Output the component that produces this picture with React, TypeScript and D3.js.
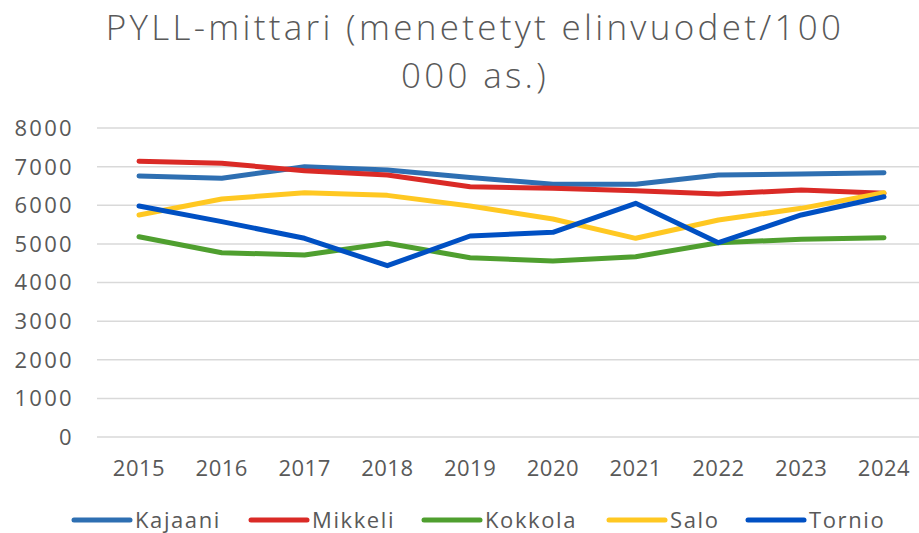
import * as React from 'react';
import {useEffect, useRef} from 'react';
import * as d3 from 'd3';

const years = ['2015', '2016', '2017', '2018', '2019', '2020', '2021', '2022', '2023', '2024'];
const yTicks = [0, 1000, 2000, 3000, 4000, 5000, 6000, 7000, 8000];

const kajaani = [6757, 6697, 6998, 6913, 6720, 6542, 6542, 6783, 6809, 6843];
const mikkeli = [7138, 7086, 6895, 6783, 6480, 6438, 6377, 6291, 6395, 6309];
const kokkola = [5186, 4772, 4712, 5014, 4642, 4557, 4668, 5031, 5118, 5160];
const salo = [5748, 6162, 6325, 6256, 5981, 5644, 5144, 5618, 5920, 6325];
const tornio = [5981, 5575, 5144, 4436, 5204, 5299, 6050, 5031, 5748, 6221];

const seriesNames = ['Kajaani', 'Mikkeli', 'Kokkola', 'Salo', 'Tornio'];
const seriesValues = [kajaani, mikkeli, kokkola, salo, tornio];
const colors = ['#2E6FB2', '#DA2A26', '#4F9F2F', '#FFC822', '#0050C3'];

const titleLines = ['PYLL-mittari (menetetyt elinvuodet/100', '000 as.)'];

const FONT = '"Open Sans", sans-serif';
const TEXT = '#595959';

const PyllChart = ({width, height}) => {
    const chartRef = useRef(null);

    useEffect(() => {
        const svg = d3.select(chartRef.current);
        svg.selectAll('*').remove();

        const xScale = d3.scalePoint()
                        .domain(years)
                        .range([139, 884]);

        const yScale = d3.scaleLinear()
                        .domain([0, 8000])
                        .range([437, 128]);

        // title
        svg.append('g')
            .selectAll('text')
            .data(titleLines)
            .enter()
            .append('text')
            .attr('x', 475)
            .attr('y', (d, i) => 40 + i * 48)
            .style('text-anchor', 'middle')
            .style('font-family', FONT)
            .style('font-weight', 300)
            .style('font-size', '35px')
            .style('letter-spacing', '3.3px')
            .style('fill', TEXT)
            .text(d => d);

        // gridlines
        svg.append('g')
            .selectAll('line')
            .data(yTicks)
            .enter()
            .append('line')
            .attr('x1', 97)
            .attr('x2', width)
            .attr('y1', d => yScale(d))
            .attr('y2', d => yScale(d))
            .attr('stroke', '#d9d9d9')
            .attr('stroke-width', 1.5);

        // y axis labels
        svg.append('g')
            .selectAll('text')
            .data(yTicks)
            .enter()
            .append('text')
            .attr('x', 74)
            .attr('y', d => yScale(d))
            .attr('dy', '0.36em')
            .style('text-anchor', 'end')
            .style('font-family', FONT)
            .style('font-size', '22px')
            .style('letter-spacing', '2.3px')
            .style('fill', TEXT)
            .text(d => d);

        // x axis labels
        svg.append('g')
            .selectAll('text')
            .data(years)
            .enter()
            .append('text')
            .attr('x', d => xScale(d))
            .attr('y', 476)
            .style('text-anchor', 'middle')
            .style('font-family', FONT)
            .style('font-size', '22px')
            .style('letter-spacing', '0.5px')
            .style('fill', TEXT)
            .text(d => d);

        const line = d3.line()
                        .x((d, i) => xScale(years[i]))
                        .y(d => yScale(d));

        svg.append('g')
            .selectAll('path')
            .data(seriesValues)
            .enter()
            .append('path')
            .attr('d', d => line(d))
            .attr('fill', 'none')
            .attr('stroke', (d, i) => colors[i])
            .attr('stroke-width', 5)
            .attr('stroke-linecap', 'round')
            .attr('stroke-linejoin', 'round');

        // legend
        const legendX = [74, 251, 424, 609, 748];
        const legend = svg.append('g')
                        .selectAll('g')
                        .data(seriesNames)
                        .enter()
                        .append('g')
                        .attr('transform', (d, i) => `translate(${legendX[i]}, 520)`);

        legend.append('line')
            .attr('x1', 0)
            .attr('x2', 56)
            .attr('stroke', (d, i) => colors[i])
            .attr('stroke-width', 5)
            .attr('stroke-linecap', 'round');

        legend.append('text')
            .attr('x', 61)
            .attr('dy', '0.36em')
            .style('font-family', FONT)
            .style('font-size', '22px')
            .style('letter-spacing', '1.6px')
            .style('fill', TEXT)
            .text(d => d);

    }, [width, height]);

    return (
        <svg ref={chartRef} width={width} height={height}
             style={{position: 'absolute', left: 0, top: 0, background: '#fff'}}></svg>
    );
};

export default function App() {
    return <PyllChart width={919} height={533} />;
}
